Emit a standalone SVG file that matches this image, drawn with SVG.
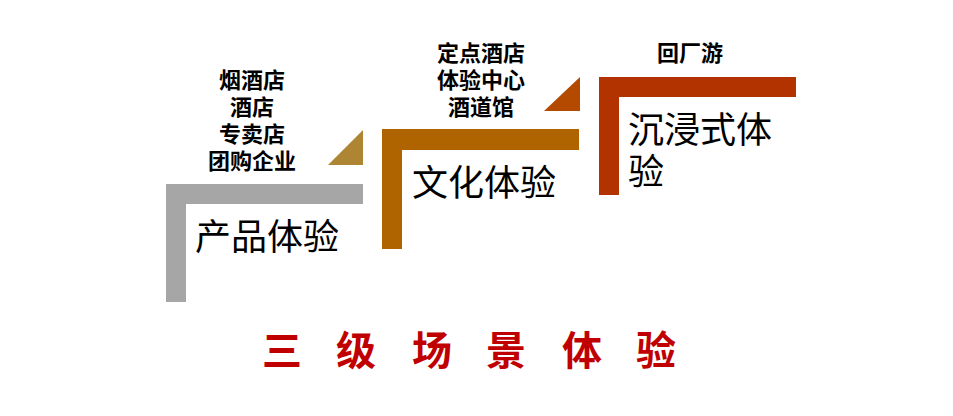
<svg xmlns="http://www.w3.org/2000/svg" width="953" height="416" viewBox="0 0 953 416">
<style>
.lbl{font-family:"Noto Sans CJK SC","Noto Sans",sans-serif;font-weight:bold;font-size:22px;fill:#000;text-anchor:middle}
.big{font-family:"Noto Sans CJK SC","Noto Sans",sans-serif;font-size:36px;fill:#000}
.title{font-family:"Noto Sans CJK SC","Noto Sans",sans-serif;font-weight:bold;font-size:40px;fill:#C00000}
</style>
<rect width="953" height="416" fill="#fff"/>
<g id="step1">
<path d="M166 184H363V204H186V302H166Z" fill="#A6A6A6"/>
<text class="big" x="195" y="250">产品体验</text>
</g>
<g id="arrow1"><path d="M363 130V165H328Z" fill="#AD8533"/></g>
<g id="label1">
<text class="lbl" x="252" y="88">烟酒店</text>
<text class="lbl" x="252" y="115">酒店</text>
<text class="lbl" x="252" y="142">专卖店</text>
<text class="lbl" x="252" y="169">团购企业</text>
</g>
<g id="step2">
<path d="M382 129H579V150H402V249H382Z" fill="#B06400"/>
<text class="big" x="412" y="196">文化体验</text>
</g>
<g id="arrow2"><path d="M580 77V111H544Z" fill="#B34A00"/></g>
<g id="label2">
<text class="lbl" x="481" y="61">定点酒店</text>
<text class="lbl" x="481" y="88">体验中心</text>
<text class="lbl" x="481" y="115">酒道馆</text>
</g>
<g id="step3">
<path d="M599 77H796V97H619V195H599Z" fill="#B33300"/>
<text class="big" x="628" y="143">沉浸式体</text>
<text class="big" x="628" y="185">验</text>
</g>
<g id="label3">
<text class="lbl" x="690" y="61">回厂游</text>
</g>
<g id="title">
<text class="title" x="262 336 412 486 562 636" y="365">三级场景体验</text>
</g>
</svg>
